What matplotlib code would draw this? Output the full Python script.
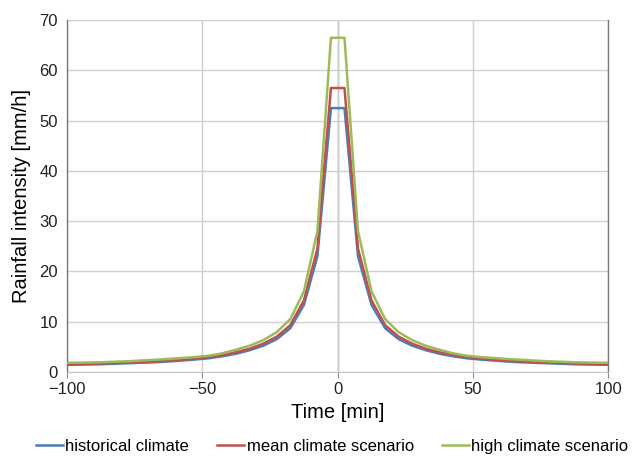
import numpy as np
import matplotlib.pyplot as plt

plt.rcParams['font.family'] = ['Liberation Sans', 'DejaVu Sans']

# time steps [min]
time = [-100, -97.5, -92.5, -87.5, -82.5, -77.5, -72.5, -67.5, -62.5, -57.5, -52.5,
        -47.5, -42.5, -37.5, -32.5, -27.5, -22.5, -17.5, -12.5, -7.5, -2.5,
        2.5, 7.5, 12.5, 17.5, 22.5, 27.5, 32.5, 37.5, 42.5, 47.5,
        52.5, 57.5, 62.5, 67.5, 72.5, 77.5, 82.5, 87.5, 92.5, 97.5, 100]

historical = [1.4, 1.4, 1.45, 1.5, 1.6, 1.7, 1.8, 1.9, 2.05, 2.25, 2.45,
              2.7, 3.1, 3.6, 4.3, 5.2, 6.5, 8.7, 13.3, 23.0, 52.5,
              52.5, 23.0, 13.3, 8.7, 6.5, 5.2, 4.3, 3.6, 3.1, 2.7,
              2.45, 2.25, 2.05, 1.9, 1.8, 1.7, 1.6, 1.5, 1.45, 1.4, 1.4]

mean_scen = [1.55, 1.55, 1.6, 1.65, 1.75, 1.85, 1.95, 2.05, 2.2, 2.4, 2.65,
             2.95, 3.35, 3.9, 4.6, 5.6, 7.0, 9.3, 14.2, 24.5, 56.5,
             56.5, 24.5, 14.2, 9.3, 7.0, 5.6, 4.6, 3.9, 3.35, 2.95,
             2.65, 2.4, 2.2, 2.05, 1.95, 1.85, 1.75, 1.65, 1.6, 1.55, 1.55]

high_scen = [1.8, 1.8, 1.85, 1.9, 2.0, 2.1, 2.25, 2.4, 2.55, 2.75, 2.95,
             3.2, 3.7, 4.4, 5.2, 6.3, 7.9, 10.5, 16.0, 28.0, 66.5,
             66.5, 28.0, 16.0, 10.5, 7.9, 6.3, 5.2, 4.4, 3.7, 3.2,
             2.95, 2.75, 2.55, 2.4, 2.25, 2.1, 2.0, 1.9, 1.85, 1.8, 1.8]

labels = ["historical climate", "mean climate scenario", "high climate scenario"]
colors = ["#4A7EBB", "#C0504D", "#9BBB59"]

fig = plt.figure(figsize=(6.39, 4.59), dpi=100)
ax = fig.add_axes([0.105, 0.19, 0.847, 0.766])

for y, lab, c in zip([historical, mean_scen, high_scen], labels, colors):
  ax.plot(time, y, color=c, lw=1.8, label=lab, zorder=3)

ax.set_xlim(-100, 100)
ax.set_ylim(0, 70)
ax.set_xticks([-100, -50, 0, 50, 100])
ax.set_yticks(np.arange(0, 71, 10))
ax.grid(True, color="#d0d0d0", lw=1.0, zorder=0)
ax.axvline(0, color="#8c8c8c", lw=1.0, zorder=1)

for s in ["left", "right"]:
  ax.spines[s].set_color("#7a7a7a")
  ax.spines[s].set_linewidth(1.0)
ax.spines["top"].set_visible(False)
ax.spines["bottom"].set_color("#c8c8c8")

ax.tick_params(axis="y", length=0, labelsize=12, pad=6.5, colors="#222222")
ax.tick_params(axis="x", length=4, color="#8c8c8c", labelsize=12, pad=3,
               labelcolor="#222222")

ax.set_xlabel("Time [min]", fontsize=14.5, labelpad=5)
ax.set_ylabel("Rainfall intensity [mm/h]", fontsize=14.5, labelpad=6)

fig.legend(loc="center", bbox_to_anchor=(0.52, 0.028), ncol=3, frameon=False,
           fontsize=12, handlelength=1.6, handletextpad=0.15, columnspacing=1.7,
           borderpad=0, borderaxespad=0)

fig.savefig("out.png", dpi=100)
